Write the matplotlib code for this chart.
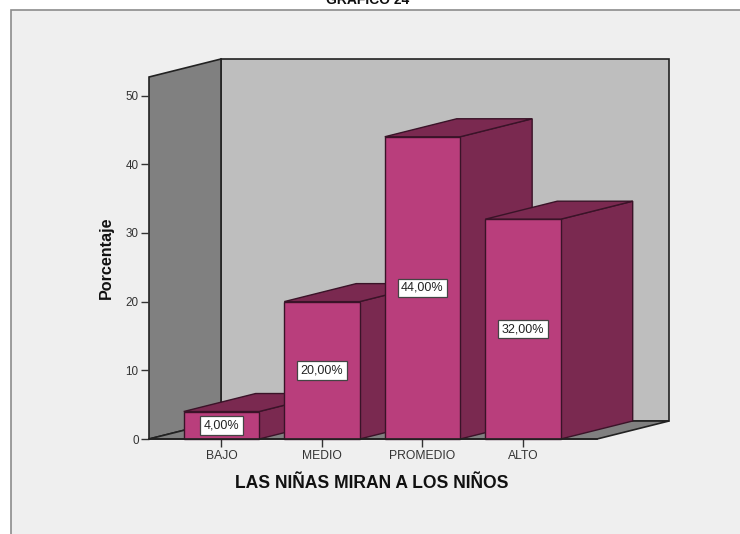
"""Percentage bar chart with a 3D look, drawn on plain 2D axes."""
import matplotlib
matplotlib.use("Agg")
import matplotlib.pyplot as plt
from matplotlib.patches import Polygon, Rectangle

plt.rcParams["font.family"] = ["Liberation Sans", "DejaVu Sans"]

# -- Data ---------------------------------------------------------------------
CATEGORIES = ["BAJO", "MEDIO", "PROMEDIO", "ALTO"]
PERCENTS = [4, 20, 44, 32]
LABELS = ["4,00%", "20,00%", "44,00%", "32,00%"]
Y_TICKS = [0, 10, 20, 30, 40, 50]

# -- Style --------------------------------------------------------------------
W, H = 740, 534
FRAME_BG = "#efefef"
FRAME_EDGE = "#8c8c8c"
WALL_DARK = "#808080"
WALL_LIGHT = "#bebebe"
BAR_FRONT = "#b93e7c"
BAR_DARK = "#7a2950"
BAR_EDGE = "#3a1328"
LINE = "#222222"

# extrusion of the box, in data units
DEPTH_X = 0.716
DEPTH_Y = 2.62
BAR_W = 0.75
X_MIN, X_MAX = -0.72, 3.736
Y_MAX = 52.7


def face(ax, pts, color, edge=LINE, lw=1.0, z=1):
    ax.add_patch(Polygon(pts, closed=True, facecolor=color, edgecolor=edge,
                         linewidth=lw, joinstyle="miter", clip_on=False, zorder=z))


fig = plt.figure(figsize=(W / 100, H / 100), dpi=100, facecolor="white")
fig.add_artist(Rectangle((11 / W, -0.01), 1.0, (534 - 10) / H + 0.01,
                         transform=fig.transFigure, facecolor=FRAME_BG,
                         edgecolor=FRAME_EDGE, linewidth=1.2, zorder=-1))

ax = fig.add_axes([149 / W, (H - 439) / H, 448 / W, 362 / H])
ax.patch.set_visible(False)
ax.set_xlim(X_MIN, X_MAX)
ax.set_ylim(0, Y_MAX)
for spine in ax.spines.values():
    spine.set_visible(False)

# -- Box walls ----------------------------------------------------------------
face(ax, [(X_MIN + DEPTH_X, DEPTH_Y), (X_MAX + DEPTH_X, DEPTH_Y),
          (X_MAX + DEPTH_X, Y_MAX + DEPTH_Y), (X_MIN + DEPTH_X, Y_MAX + DEPTH_Y)],
     WALL_LIGHT, lw=1.2)
face(ax, [(X_MIN, 0), (X_MIN + DEPTH_X, DEPTH_Y),
          (X_MIN + DEPTH_X, Y_MAX + DEPTH_Y), (X_MIN, Y_MAX)], WALL_DARK, lw=1.2)
face(ax, [(X_MIN, 0), (X_MAX, 0), (X_MAX + DEPTH_X, DEPTH_Y),
          (X_MIN + DEPTH_X, DEPTH_Y)], WALL_DARK, lw=1.2)

# -- Bars ---------------------------------------------------------------------
# left to right, the next bar's front hides the side of the previous one
for i, val in enumerate(PERCENTS):
    x0, x1 = i - BAR_W / 2, i + BAR_W / 2
    z = 2 + i
    face(ax, [(x1, 0), (x1 + DEPTH_X, DEPTH_Y), (x1 + DEPTH_X, val + DEPTH_Y), (x1, val)],
         BAR_DARK, edge=BAR_EDGE, z=z)
    face(ax, [(x0, val), (x1, val), (x1 + DEPTH_X, val + DEPTH_Y), (x0 + DEPTH_X, val + DEPTH_Y)],
         BAR_DARK, edge=BAR_EDGE, z=z)
    face(ax, [(x0, 0), (x1, 0), (x1, val), (x0, val)], BAR_FRONT, edge=BAR_EDGE, z=z)
    ax.text(i, val / 2, LABELS[i], ha="center", va="center", fontsize=9.0,
            color="#222222", zorder=20,
            bbox=dict(boxstyle="square,pad=0.27", facecolor="white",
                      edgecolor="#444444", linewidth=0.9))

# -- Axes ---------------------------------------------------------------------
ax.plot([X_MIN, X_MAX], [0, 0], color=LINE, linewidth=1.2, clip_on=False, zorder=15)
ax.set_yticks(Y_TICKS)
ax.set_xticks(range(len(CATEGORIES)))
ax.set_xticklabels(CATEGORIES)
ax.tick_params(axis="y", colors="#333333", labelsize=8.4, length=5.5, width=1.0, pad=2)
ax.tick_params(axis="x", colors="#333333", labelsize=8.7, length=5.5, width=1.0, pad=2.5)

fig.text(106 / W, 1 - 258 / H, "Porcentaje", rotation=90, ha="center", va="center",
         fontsize=11.6, fontweight="bold", color="#111111")
fig.text(372 / W, 1 - 484 / H, "LAS NIÑAS MIRAN A LOS NIÑOS", ha="center", va="center",
         fontsize=12.65, fontweight="bold", color="#111111")
# cut by the top edge in the source image as well
fig.text(368 / W, 1 - 0 / H, "GRAFICO 24", ha="center", va="center",
         fontsize=10, fontweight="bold", color="#111111")

fig.savefig("out.png", dpi=100, facecolor=fig.get_facecolor())
